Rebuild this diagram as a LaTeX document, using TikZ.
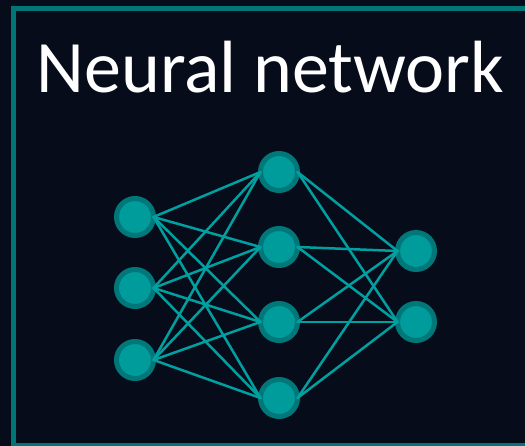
\documentclass[tikz,border=0pt]{standalone}
\usepackage{fontspec}
\setmainfont{Carlito}
\definecolor{bgnavy}{RGB}{7,12,27}
\definecolor{frameteal}{RGB}{0,118,118}
\definecolor{nodefill}{RGB}{0,155,155}
\definecolor{noderim}{RGB}{0,120,122}
\definecolor{linkteal}{RGB}{0,160,160}
\begin{document}
\begin{tikzpicture}[x=1pt,y=-1pt,
  neuron/.style={circle,draw=noderim,fill=nodefill,line width=5pt,
    minimum size=37pt,inner sep=0pt,outer sep=0pt},
  link/.style={draw=linkteal,line width=2.5pt,line cap=round},
  title/.style={text=white,font=\fontsize{74}{88}\selectfont,inner sep=0pt,anchor=base west}]
  \useasboundingbox (0,0) rectangle (525,446);
  \clip (0,0) rectangle (525,446);
  \fill[bgnavy] (0,0) rectangle (525,446);
  % frame, open to the right
  \draw[frameteal,line width=5pt] (13,8.5) rectangle (540,445.5);
  % heading
  \node[title] (head) at (36.5,93) {Neural network};
  % layers
  \node[neuron] (i1) at (135,217) {};
  \node[neuron] (i2) at (135,288) {};
  \node[neuron] (i3) at (135,360) {};
  \node[neuron] (h1) at (279,172) {};
  \node[neuron] (h2) at (279,247) {};
  \node[neuron] (h3) at (279,322) {};
  \node[neuron] (h4) at (279,398) {};
  \node[neuron] (o1) at (416,251) {};
  \node[neuron] (o2) at (416,322) {};
  % connections
  \foreach \a in {i1,i2,i3}
    \foreach \b in {h1,h2,h3,h4}
      \draw[link] (\a.east) -- (\b.west);
  \foreach \a in {h1,h2,h3,h4}
    \foreach \b in {o1,o2}
      \draw[link] (\a.east) -- (\b.west);
\end{tikzpicture}
\end{document}
